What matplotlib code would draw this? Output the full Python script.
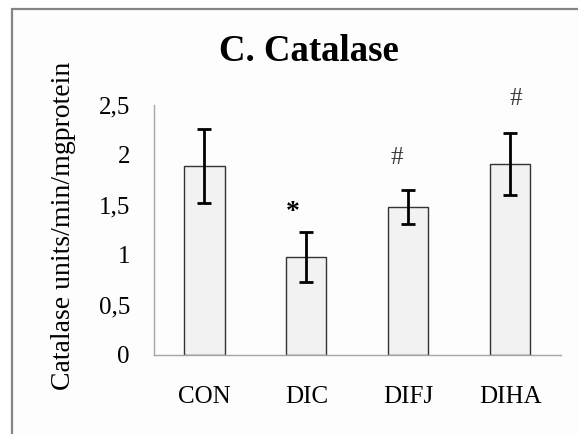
import matplotlib
matplotlib.use('Agg')
import matplotlib.pyplot as plt
from matplotlib.patches import Rectangle

groups = ['CON', 'DIC', 'DIFJ', 'DIHA']
means = [1.89, 0.98, 1.48, 1.91]
errs = [0.37, 0.25, 0.17, 0.31]
marks = ['', '*', '#', '#']
mark_x_shift = [0, -0.13, -0.11, 0.055]
mark_y = [0, 1.42, 1.97, 2.56]
yticks = [0, 0.5, 1, 1.5, 2, 2.5]
ytick_labels = ['0', '0,5', '1', '1,5', '2', '2,5']

plt.rcParams['font.family'] = ['Liberation Serif', 'DejaVu Serif']

fig = plt.figure(figsize=(5.78, 4.34), dpi=100)
fig.patch.set_facecolor('white')

# outer chart frame (cut off at right/bottom like the source)
W, H = 578.0, 434.0
fig.patches.append(Rectangle((12 / W, -0.1), 1.2, 1 - 9 / H + 0.1,
                             transform=fig.transFigure, facecolor='#fdfdfd',
                             edgecolor='#868686', linewidth=1.6, zorder=-10))

ax = fig.add_axes([153.5 / W, 1 - 354.5 / H, (561 - 153.5) / W, (354.5 - 105) / H])
ax.set_facecolor('none')

x = range(len(groups))
ax.bar(x, means, width=0.395, color='#f2f2f2', edgecolor='#333333',
       linewidth=1.0, zorder=2)
ax.errorbar(x, means, yerr=errs, fmt='none', ecolor='black',
            elinewidth=2.0, capsize=4.8, capthick=2.0, zorder=3)

for i, m in enumerate(marks):
    if m == '*':
        ax.text(i + mark_x_shift[i], mark_y[i], m, ha='center', va='center',
                fontsize=20, fontweight='bold', clip_on=False)
    elif m:
        ax.text(i + mark_x_shift[i], mark_y[i], m, ha='center', va='center',
                fontsize=18, color='#3a3a3a', clip_on=False)

ax.set_xlim(-0.5, 3.5)
ax.set_ylim(0, 2.5)
ax.set_xticks(list(x))
ax.set_xticklabels(groups, fontsize=18)
ax.set_yticks(yticks)
ax.set_yticklabels(ytick_labels, fontsize=18)
ax.tick_params(axis='both', length=0)
ax.tick_params(axis='x', pad=23)
ax.tick_params(axis='y', pad=17)

for s in ['top', 'right']:
    ax.spines[s].set_visible(False)
ax.spines['left'].set_color('#a6a6a6')
ax.spines['bottom'].set_color('#a6a6a6')
ax.spines['left'].set_linewidth(1.0)
ax.spines['bottom'].set_linewidth(1.0)

ax.set_ylabel('Catalase units/min/mgprotein', fontsize=20)
ax.yaxis.set_label_coords(-0.19, 0.515)

fig.text(309 / W, 1 - 51.5 / H, 'C. Catalase', ha='center', va='center',
         fontsize=26.5, fontweight='bold')

fig.savefig('out.png', dpi=100)
